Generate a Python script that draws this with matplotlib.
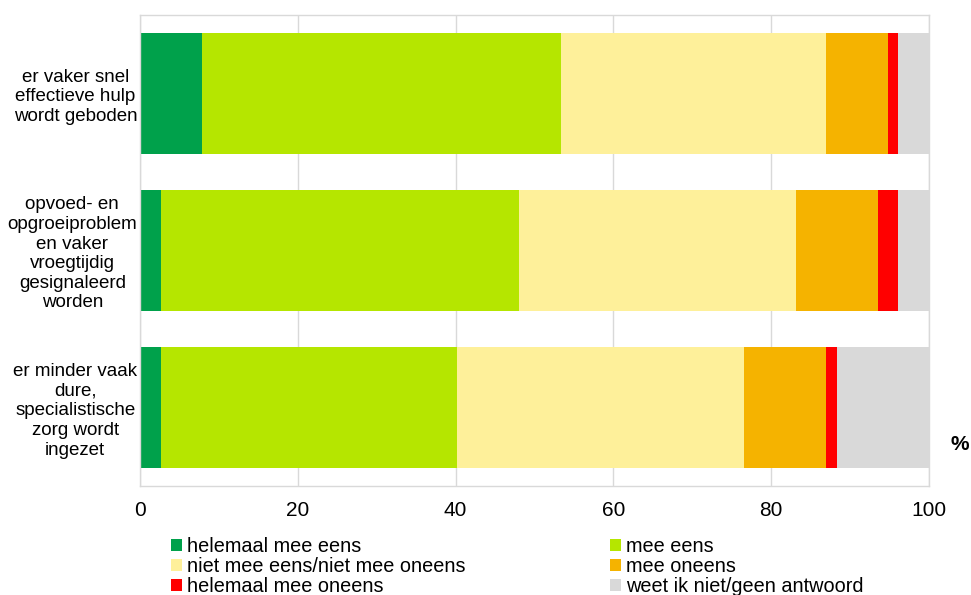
import matplotlib.pyplot as plt
from matplotlib.patches import Patch

plt.rcParams["font.family"] = ["Liberation Sans", "DejaVu Sans"]

OUTPUT_FILENAME = "out.png"

categories = [
    "er vaker snel\neffectieve hulp\nwordt geboden",
    "opvoed- en\nopgroeiproblem\nen vaker\nvroegtijdig\ngesignaleerd\nworden",
    "er minder vaak\ndure,\nspecialistische\nzorg wordt\ningezet",
]
series_names = [
    "helemaal mee eens",
    "mee eens",
    "niet mee eens/niet mee oneens",
    "mee oneens",
    "helemaal mee oneens",
    "weet ik niet/geen antwoord",
]
helemaal_eens = [7.8, 2.6, 2.6]
mee_eens = [45.5, 45.4, 37.6]
neutraal = [33.7, 35.1, 36.4]
mee_oneens = [7.8, 10.4, 10.4]
helemaal_oneens = [1.3, 2.6, 1.3]
weet_niet = [3.9, 3.9, 11.7]
colors = ["#00A14B", "#B5E600", "#FEF09A", "#F5B300", "#FF0000", "#D9D9D9"]

values = [helemaal_eens, mee_eens, neutraal, mee_oneens, helemaal_oneens, weet_niet]

fig = plt.figure(figsize=(9.71, 5.95), dpi=100)
ax = fig.add_axes([140 / 971, 1 - 486 / 595, 789 / 971, 471 / 595])

ypos = list(range(len(categories)))
left = [0.0] * len(categories)
for vals, color, name in zip(values, colors, series_names):
    ax.barh(ypos, vals, left=left, height=0.77, color=color, label=name, zorder=2)
    left = [a + b for a, b in zip(left, vals)]

ax.set_xlim(0, 100)
ax.set_ylim(2.5, -0.5)
ax.set_xticks([0, 20, 40, 60, 80, 100])
ax.set_yticks(ypos)
ax.set_yticklabels(categories, fontsize=13.5, linespacing=1.2, multialignment="center")
ax.tick_params(axis="both", length=0)
ax.tick_params(axis="x", labelsize=15, pad=11)
ax.tick_params(axis="y", pad=2)
ax.grid(axis="x", color="#D9D9D9", linewidth=1, zorder=0)
for spine in ax.spines.values():
    spine.set_color("#D9D9D9")
    spine.set_linewidth(1)

fig.text(960 / 971, 1 - 444 / 595, "%", fontsize=15, fontweight="bold", ha="center", va="center")

handles = [Patch(facecolor=c, edgecolor="none") for c in colors]
order = [0, 2, 4, 1, 3, 5]
fig.legend(
    [handles[i] for i in order],
    [series_names[i] for i in order],
    ncol=2,
    loc="upper left",
    bbox_to_anchor=(171 / 971, 1 - 537 / 595),
    frameon=False,
    fontsize=14.3,
    handlelength=0.55,
    handleheight=0.55,
    handletextpad=0.25,
    labelspacing=0.05,
    columnspacing=7.3,
    borderaxespad=0,
    borderpad=0,
)

plt.savefig(OUTPUT_FILENAME, dpi=100)
plt.close()
